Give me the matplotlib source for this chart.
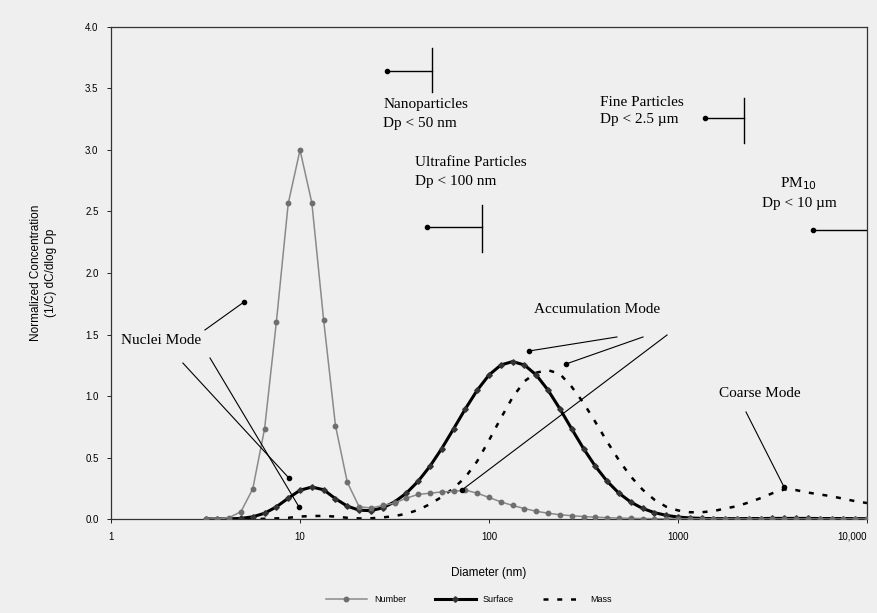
import matplotlib
matplotlib.use("Agg")
import matplotlib.pyplot as plt

# Particle diameters (nm), 16 bins per decade from ~3 nm to 10 um
diameter = [3.162, 3.652, 4.217, 4.870, 5.623, 6.494, 7.499, 8.660,
            10.0, 11.55, 13.34, 15.40, 17.78, 20.54, 23.71, 27.38,
            31.62, 36.52, 42.17, 48.70, 56.23, 64.94, 74.99, 86.60,
            100.0, 115.5, 133.4, 154.0, 177.8, 205.4, 237.1, 273.8,
            316.2, 365.2, 421.7, 487.0, 562.3, 649.4, 749.9, 866.0,
            1000.0, 1155.0, 1334.0, 1540.0, 1778.0, 2054.0, 2371.0, 2738.0,
            3162.0, 3652.0, 4217.0, 4870.0, 5623.0, 6494.0, 7499.0, 8660.0,
            10000.0]

number = [0.0, 0.001, 0.011, 0.060, 0.245, 0.734, 1.604, 2.565,
          3.000, 2.570, 1.615, 0.760, 0.300, 0.100, 0.090, 0.110,
          0.130, 0.170, 0.200, 0.210, 0.220, 0.225, 0.235, 0.210,
          0.175, 0.140, 0.110, 0.085, 0.063, 0.047, 0.035, 0.027,
          0.020, 0.015, 0.011, 0.008, 0.006, 0.004, 0.003, 0.002,
          0.001, 0.001, 0.001, 0.0, 0.0, 0.0, 0.0, 0.0,
          0.0, 0.0, 0.0, 0.0, 0.0, 0.0, 0.0, 0.0,
          0.0]

surface = [0.0, 0.0, 0.001, 0.005, 0.018, 0.047, 0.099, 0.169,
           0.234, 0.260, 0.238, 0.165, 0.105, 0.072, 0.068, 0.091,
           0.139, 0.210, 0.307, 0.429, 0.573, 0.733, 0.896, 1.047,
           1.171, 1.252, 1.280, 1.252, 1.171, 1.047, 0.896, 0.733,
           0.573, 0.429, 0.307, 0.210, 0.138, 0.086, 0.052, 0.030,
           0.016, 0.009, 0.005, 0.003, 0.003, 0.003, 0.004, 0.004,
           0.005, 0.005, 0.005, 0.005, 0.004, 0.004, 0.004, 0.003,
           0.003]

mass = [0.0, 0.0, 0.0, 0.0, 0.0, 0.002, 0.005, 0.010,
        0.020, 0.025, 0.025, 0.020, 0.010, 0.005, 0.006, 0.013,
        0.024, 0.043, 0.074, 0.121, 0.180, 0.250, 0.340, 0.470,
        0.640, 0.820, 0.990, 1.120, 1.190, 1.210, 1.180, 1.075,
        0.944, 0.789, 0.629, 0.478, 0.346, 0.239, 0.157, 0.100,
        0.070, 0.055, 0.055, 0.065, 0.085, 0.105, 0.135, 0.170,
        0.210, 0.240, 0.235, 0.215, 0.200, 0.185, 0.165, 0.145,
        0.130]

x_ticks = [1, 10, 100, 1000, 10000]
x_tick_labels = ["1", "10", "100", "1000", "10,000"]
y_ticks = [0.0, 0.5, 1.0, 1.5, 2.0, 2.5, 3.0, 3.5, 4.0]

BG = "#efefef"
SERIF = ["Liberation Serif", "DejaVu Serif"]
SANS = ["Liberation Sans", "DejaVu Sans"]

fig = plt.figure(figsize=(8.77, 6.13), dpi=100, facecolor=BG)
ax = fig.add_axes([0.1266, 0.1533, 0.862, 0.8027], facecolor=BG)

ax.plot(diameter, mass, color="black", lw=1.8, ls=(0, (2.0, 3.5)),
        label="Mass", zorder=2)
ax.plot(diameter, surface, color="black", lw=2.2, marker="D", ms=2.8,
        mfc="#333333", mec="#333333", label="Surface", zorder=3)
ax.plot(diameter, number, color="#8a8a8a", lw=1.1, marker="o", ms=3.2,
        mfc="#6e6e6e", mec="#6e6e6e", label="Number", zorder=4)

ax.set_xscale("log")
ax.set_xlim(1, 10000)
ax.set_ylim(0, 4.0)
ax.set_xticks(x_ticks)
ax.set_xticklabels(x_tick_labels, fontsize=7, family=SANS)
ax.get_xticklabels()[-1].set_horizontalalignment("right")
ax.minorticks_off()
ax.set_yticks(y_ticks)
ax.set_yticklabels([f"{v:.1f}" for v in y_ticks], fontsize=7, family=SANS)
ax.tick_params(direction="out", length=3, width=0.6, pad=6)
for s in ax.spines.values():
    s.set_linewidth(0.9)
    s.set_color("#333333")

ax.set_xlabel("Diameter (nm)", fontsize=8.5, family=SANS, labelpad=18)
ax.set_ylabel("Normalized Concentration\n(1/C) dC/dlog Dp", fontsize=8.5,
              family=SANS, labelpad=20, linespacing=1.4)

# legend beneath the plot, in series order Number / Surface / Mass
h, l = ax.get_legend_handles_labels()
order = [2, 1, 0]
fig.legend([h[i] for i in order], [l[i] for i in order], loc="center",
           bbox_to_anchor=(0.535, 0.022), ncol=3, frameon=False,
           prop={"family": SANS, "size": 6.5}, handlelength=4.5,
           columnspacing=3.2)


def pointer(x0, y0, x1, y1, lw=0.8):
    """Thin leader line ending in a small dot."""
    ax.plot([x0, x1], [y0, y1], color="black", lw=lw, zorder=5)
    ax.plot([x1], [y1], "o", color="black", ms=3, zorder=5)


def bracket(xb, ylo, yhi, ytip, xtip):
    """Size cut-off bar with a leader pointing toward smaller sizes."""
    ax.plot([xb, xb], [ylo, yhi], color="black", lw=1.0, zorder=5)
    pointer(xb, ytip, xtip, ytip, lw=1.0)


tfont = dict(family=SERIF, fontsize=11, zorder=6)

# size-class cut-offs
bracket(50, 3.47, 3.83, 3.64, 28.8)
ax.text(27.5, 3.42, "Nanoparticles\nDp < 50 nm", ha="left", va="top",
        linespacing=1.6, **tfont)

bracket(92, 2.17, 2.55, 2.37, 47)
ax.text(40.6, 2.95, "Ultrafine Particles\nDp < 100 nm", ha="left",
        va="top", linespacing=1.6, **tfont)

bracket(2234, 3.06, 3.42, 3.26, 1389)
ax.text(386, 3.44, "Fine Particles\nDp < 2.5 \u00b5m", ha="left", va="top",
        linespacing=1.45, **tfont)

pointer(10000, 2.35, 5180, 2.35, lw=1.0)
ax.text(4365, 2.65, "PM$_{10}$\nDp < 10 \u00b5m", ha="center",
        va="center", linespacing=1.5, **tfont)

# mode labels
ax.text(1.13, 1.455, "Nuclei Mode", ha="left", va="center", **tfont)
pointer(3.14, 1.537, 5.05, 1.764)
pointer(2.40, 1.268, 8.74, 0.333)
pointer(3.34, 1.309, 9.88, 0.098)

ax.text(372, 1.70, "Accumulation Mode", ha="center", va="center", **tfont)
pointer(475, 1.48, 163, 1.366)
pointer(653, 1.48, 255, 1.26)
pointer(875, 1.496, 71.9, 0.236)

ax.text(2716, 1.024, "Coarse Mode", ha="center", va="center", **tfont)
pointer(2290, 0.87, 3640, 0.26)

fig.savefig("out.png", dpi=100, facecolor=BG)
